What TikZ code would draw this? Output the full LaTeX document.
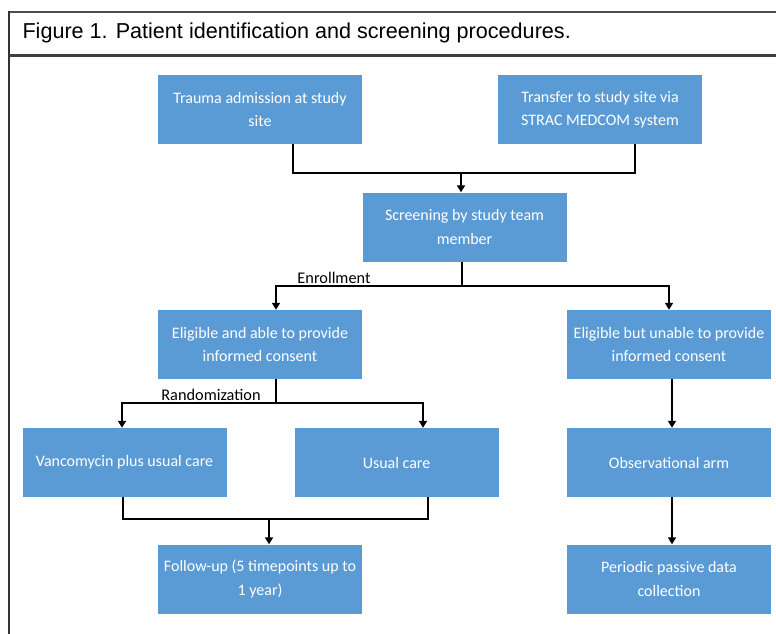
\documentclass[tikz,border=0pt]{standalone}
\usepackage{fontspec}
\setmainfont{Carlito}
\newfontfamily\titlefont{Liberation Sans}
\usetikzlibrary{arrows.meta}
\definecolor{boxblue}{HTML}{5B9BD5}
\tikzset{
  stepbox/.style={fill=boxblue, text=white, minimum width=204pt, minimum height=69pt,
    align=center, inner sep=2pt, font=\fontsize{16}{23.5}\selectfont},
  link/.style={line width=2pt, black},
  linkarrow/.style={link, -{Triangle[length=7pt,width=8pt]}},
  steplabel/.style={font=\fontsize{16.3}{18}\selectfont, text=black}
}
\begin{document}
\begin{tikzpicture}[x=1pt, y=-1pt]
    \useasboundingbox (0,0) rectangle (776,634);
    % Frame and title
    \draw[line width=2pt, black!70] (9,12) -- (778,12);
    \draw[line width=1.5pt, black!80] (9,11) -- (9,636);
    \draw[line width=3pt, black!75] (9,55.5) -- (778,55.5);
    \node[anchor=west, font=\titlefont\fontsize{21.6}{24}\selectfont] (title) at (19,33)
      {Figure 1. Patient identification and screening procedures.};

    % Boxes
    \node[stepbox] (trauma)   at (260,109.5) {Trauma admission at study\\site};
    \node[stepbox] (transfer) at (600,109.5) {Transfer to study site via\\STRAC MEDCOM system};
    \node[stepbox] (screen)   at (464.5,227) {Screening by study team\\member};
    \node[stepbox] (able)     at (260,344.5) {Eligible and able to provide\\informed consent};
    \node[stepbox] (unable)   at (669,344.5) {Eligible but unable to provide\\informed consent};
    \node[stepbox] (vanco)    at (124.5,462.5) {Vancomycin plus usual care};
    \node[stepbox] (usual)    at (396.5,462.5) {Usual care};
    \node[stepbox] (observ)   at (669,462.5) {Observational arm};
    \node[stepbox] (followup) at (260,579) {Follow-up (5 timepoints up to\\1 year)};
    \node[stepbox] (passive)  at (669,579) {Periodic passive data\\collection};

    % Junction points
    \coordinate (join1) at (461,173);
    \coordinate (enroll) at (462,286);
    \coordinate (random) at (276,403);
    \coordinate (join2) at (269,519);

    % Admission to screening
    \draw[link] ([xshift=33pt]trauma.south) |- (join1);
    \draw[link] ([xshift=35pt]transfer.south) |- (join1);
    \draw[linkarrow] (join1) -- (screen.north -| join1);

    % Enrollment
    \draw[link] (screen.south -| enroll) -- (enroll);
    \draw[linkarrow] (enroll) -| (able.north -| random);
    \draw[linkarrow] (enroll) -| (unable.north);
    \node[steplabel, anchor=south] (enrolltext) at (334,287.5) {Enrollment};

    % Randomization
    \draw[link] (able.south -| random) -- (random);
    \draw[linkarrow] (random) -| ([xshift=-2.5pt]vanco.north);
    \draw[linkarrow] (random) -| ([xshift=26.5pt]usual.north);
    \node[steplabel, anchor=south] (randomtext) at (211,404.5) {Randomization};

    % Follow-up
    \draw[link] ([xshift=-1.5pt]vanco.south) |- (join2);
    \draw[link] ([xshift=31.5pt]usual.south) |- (join2);
    \draw[linkarrow] (join2) -- (followup.north -| join2);

    % Observational arm
    \draw[linkarrow] ([xshift=3pt]unable.south) -- ([xshift=3pt]observ.north);
    \draw[linkarrow] ([xshift=3pt]observ.south) -- ([xshift=3pt]passive.north);
  \end{tikzpicture}
\end{document}
